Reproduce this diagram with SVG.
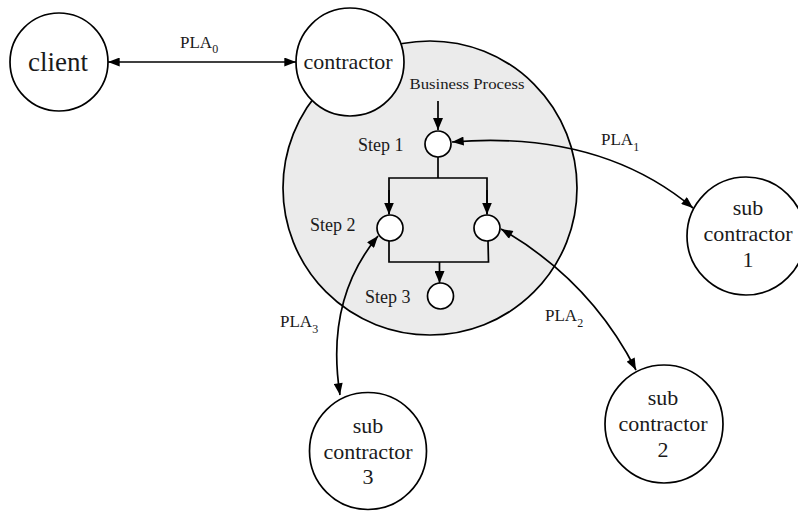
<svg xmlns="http://www.w3.org/2000/svg" width="798" height="512" viewBox="0 0 798 512">
<style>
.node{fill:#fff;stroke:#000;stroke-width:1.7}
.t{font-family:"Liberation Serif","Times New Roman",serif;fill:#1a1a1a}
.big{font-size:27px}
.mid{font-size:22px}
.step{font-size:18px}
.pla{font-size:17px}
.sub{font-size:12px}
.c{stroke:#000;stroke-width:1.7;fill:none}
</style>
<defs>
<marker id="ah" viewBox="0 0 13 10" refX="13" refY="5" markerWidth="13" markerHeight="9" markerUnits="userSpaceOnUse" orient="auto-start-reverse">
<path d="M0,0 L13,5 L0,10 z" fill="#000"/>
</marker>
<marker id="sh" viewBox="0 0 12 10" refX="12" refY="5" markerWidth="12" markerHeight="10" markerUnits="userSpaceOnUse" orient="auto">
<path d="M0,0 L12,5 L0,10 z" fill="#000"/>
</marker>
</defs>
<rect width="798" height="512" fill="#fff"/>

<g id="business-process">
<circle cx="430" cy="188" r="147" fill="#ebebeb" stroke="#000" stroke-width="1.7"/>
<text class="t" x="467" y="89" text-anchor="middle" font-size="15" textLength="115" lengthAdjust="spacingAndGlyphs">Business Process</text>
</g>

<g id="client">
<circle class="node" cx="59" cy="62" r="49"/>
<text class="t big" x="58" y="71" text-anchor="middle">client</text>
</g>

<g id="contractor">
<circle class="node" cx="350" cy="62" r="54"/>
<text class="t mid" x="348" y="69" text-anchor="middle">contractor</text>
</g>

<g id="connectors">
<line class="c" x1="108" y1="62" x2="296" y2="62" marker-start="url(#ah)" marker-end="url(#ah)"/>
<line class="c" x1="438" y1="101" x2="438" y2="130" marker-end="url(#sh)"/>
<line class="c" x1="438" y1="157" x2="438" y2="178"/>
<polyline class="c" points="389,214 389,178 487,178 487,214"/>
<line class="c" x1="389" y1="190" x2="389" y2="214.5" marker-end="url(#sh)"/>
<line class="c" x1="487" y1="190" x2="487" y2="214.5" marker-end="url(#sh)"/>
<polyline class="c" points="389,241 389,262 488.5,262 488,241"/>
<line class="c" x1="439.5" y1="262" x2="439.5" y2="283" marker-end="url(#sh)"/>
<path class="c" d="M452,142 Q600,130 693,208" marker-start="url(#ah)" marker-end="url(#ah)"/>
<path class="c" d="M501,229 Q590,280 636,370" marker-start="url(#ah)" marker-end="url(#ah)"/>
<path class="c" d="M378,236 Q325,300 340,395" marker-start="url(#ah)" marker-end="url(#ah)"/>
<text class="t pla" x="180" y="48">PLA<tspan class="sub" dy="5">0</tspan></text>
<text class="t pla" x="601" y="145">PLA<tspan class="sub" dy="6">1</tspan></text>
<text class="t pla" x="545" y="321">PLA<tspan class="sub" dy="6">2</tspan></text>
<text class="t pla" x="280" y="327">PLA<tspan class="sub" dy="6">3</tspan></text>
</g>

<g id="step1">
<circle class="node" cx="438" cy="144" r="13"/>
<text class="t step" x="358" y="151">Step 1</text>
</g>
<g id="step2">
<circle class="node" cx="390" cy="228" r="13"/>
<text class="t step" x="310" y="231">Step 2</text>
</g>
<g id="step2b">
<circle class="node" cx="487" cy="228" r="13"/>
</g>
<g id="step3">
<circle class="node" cx="440.5" cy="296" r="13"/>
<text class="t step" x="365" y="303">Step 3</text>
</g>

<g id="subcontractor1">
<circle class="node" cx="746" cy="236" r="59"/>
<text class="t mid" x="748" y="215" text-anchor="middle">sub</text>
<text class="t mid" x="748" y="241" text-anchor="middle">contractor</text>
<text class="t mid" x="748" y="267" text-anchor="middle">1</text>
</g>
<g id="subcontractor2">
<circle class="node" cx="664" cy="424" r="59"/>
<text class="t mid" x="663" y="405" text-anchor="middle">sub</text>
<text class="t mid" x="663" y="431" text-anchor="middle">contractor</text>
<text class="t mid" x="663" y="457" text-anchor="middle">2</text>
</g>
<g id="subcontractor3">
<circle class="node" cx="368" cy="451" r="58.5"/>
<text class="t mid" x="368" y="433" text-anchor="middle">sub</text>
<text class="t mid" x="368" y="459" text-anchor="middle">contractor</text>
<text class="t mid" x="368" y="484" text-anchor="middle">3</text>
</g>
</svg>
